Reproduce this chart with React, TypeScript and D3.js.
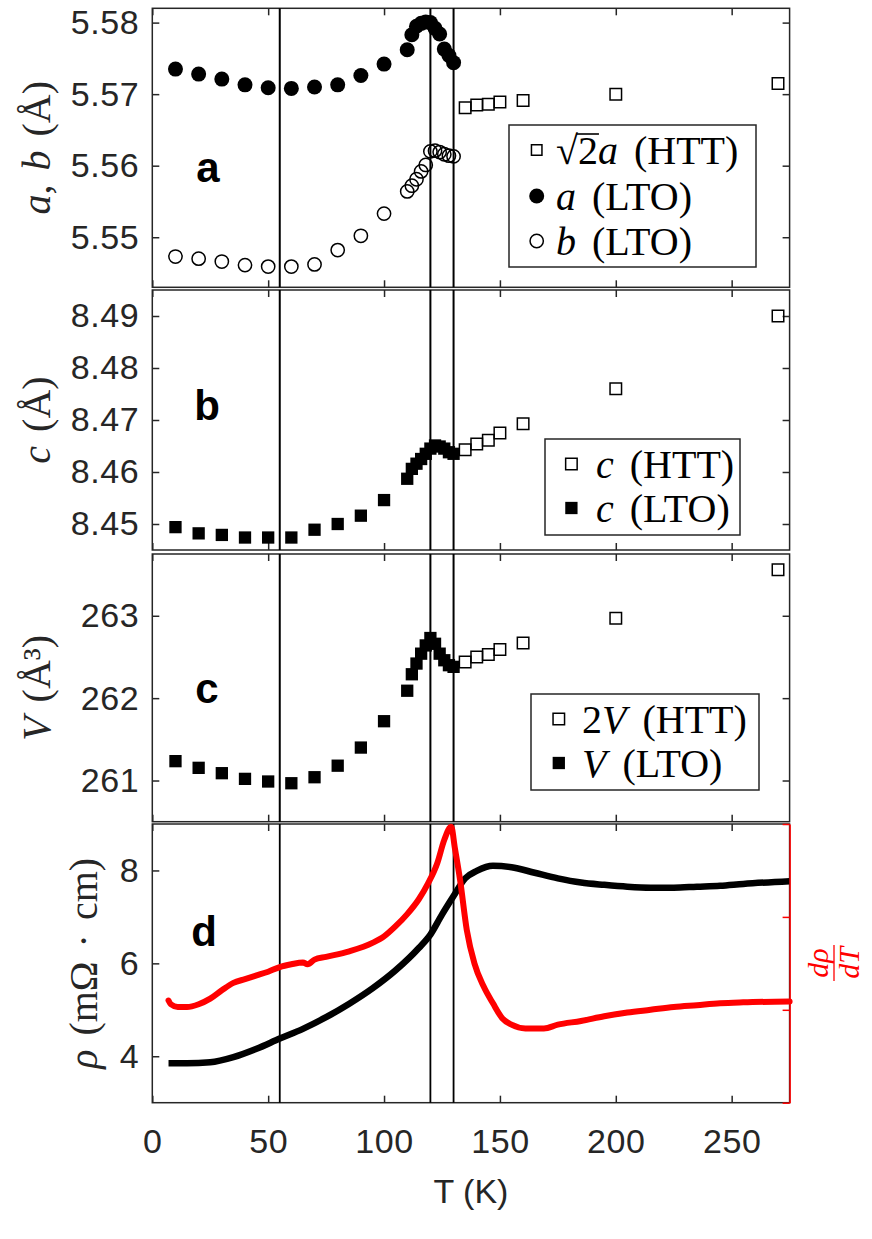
import React, { useRef, useEffect } from 'react';
import * as d3 from 'd3';

// temperatures of the LTO refinements (K)
const tLTO = [10, 20, 30, 40, 50, 60, 70, 80, 90, 100, 110, 112, 114, 116, 118, 120, 122, 124, 126, 128, 130];
// temperatures of the HTT refinements (K)
const tHTT = [135, 140, 145, 150, 160, 200, 270];

const aLTO = [5.5735, 5.5728, 5.5721, 5.5713, 5.5709, 5.5708, 5.571, 5.5713, 5.5726, 5.5742, 5.5762, 5.5783, 5.5795, 5.5799, 5.5801, 5.58, 5.5792, 5.5784, 5.5763, 5.5754, 5.5744];
const bLTO = [5.5473, 5.547, 5.5466, 5.5461, 5.5459, 5.5459, 5.5462, 5.5482, 5.5502, 5.5533, 5.5564, 5.5572, 5.5581, 5.5592, 5.5601, 5.562, 5.5621, 5.5619, 5.5616, 5.5614, 5.5613];
const aHTT = [5.5681, 5.5685, 5.5686, 5.5689, 5.5691, 5.57, 5.5715];

const cLTO = [8.4494, 8.4482, 8.4479, 8.4474, 8.4474, 8.4474, 8.4489, 8.45, 8.4516, 8.4546, 8.4587, 8.4606, 8.4616, 8.4625, 8.4635, 8.4645, 8.4651, 8.4649, 8.4645, 8.4638, 8.4635];
const cHTT = [8.4643, 8.4654, 8.4661, 8.4675, 8.4693, 8.476, 8.49];

const vLTO = [261.235, 261.154, 261.089, 261.02, 260.988, 260.967, 261.04, 261.18, 261.4, 261.72, 262.09, 262.29, 262.42, 262.54, 262.64, 262.73, 262.66, 262.54, 262.46, 262.4, 262.38];
const vHTT = [262.44, 262.5, 262.53, 262.59, 262.67, 262.97, 263.56];

// resistivity (mOhm cm)
const tRho = [7, 15, 25, 35, 45, 55, 65, 75, 85, 95, 105, 115, 120, 125, 130, 135, 140, 147, 155, 165, 175, 185, 195, 205, 215, 225, 235, 245, 255, 275];
const rho = [3.85, 3.85, 3.87, 3.98, 4.16, 4.38, 4.59, 4.84, 5.13, 5.46, 5.85, 6.33, 6.62, 7.05, 7.45, 7.83, 7.99, 8.1, 8.07, 7.95, 7.83, 7.74, 7.69, 7.65, 7.63, 7.63, 7.65, 7.67, 7.71, 7.77];

// derivative, arbitrary units on the red axis
const tDrho = [7, 8, 11, 15, 20, 25, 30, 35, 40, 45, 50, 55, 60, 65, 67, 70, 75, 85, 95, 100, 105, 110, 115, 119, 123, 126, 129, 130.5, 132.8, 135.7, 139, 143, 147, 151, 155, 161, 169, 175, 185, 195, 205, 215, 225, 235, 245, 255, 275];
const dRho = [1.1, 1.06, 1.03, 1.03, 1.06, 1.12, 1.21, 1.29, 1.33, 1.37, 1.41, 1.46, 1.49, 1.51, 1.49, 1.54, 1.57, 1.63, 1.72, 1.79, 1.9, 2.03, 2.19, 2.36, 2.58, 2.83, 2.97, 2.75, 2.4, 1.86, 1.5, 1.25, 1.07, 0.91, 0.84, 0.8, 0.8, 0.84, 0.88, 0.93, 0.97, 1.0, 1.03, 1.05, 1.07, 1.08, 1.09];

const xTicks = [0, 50, 100, 150, 200, 250];
const transitions = [55, 120, 130];
const ticksA = [5.55, 5.56, 5.57, 5.58];
const ticksB = [8.45, 8.46, 8.47, 8.48, 8.49];
const ticksC = [261, 262, 263];
const ticksD = [4, 6, 8];
const ticksRed = [0, 1, 2, 3];

type Part = { t: string; it?: boolean };
type Marker = 'fcircle' | 'ocircle' | 'osquare' | 'fsquare';

const AXIS = '#262626';
const SANS = '"Liberation Sans", Arial, Helvetica, sans-serif';
const SERIF = '"Liberation Serif", "Times New Roman", serif';

export default function App() {
  const svgRef = useRef<SVGSVGElement>(null);

  useEffect(() => {
    const svg = d3.select(svgRef.current);
    svg.selectAll('*').remove();

    const x = d3.scaleLinear().domain([0, 275]).range([152.3, 789.6]);

    const rich = (sel: d3.Selection<SVGTextElement, unknown, null, undefined>, parts: Part[]) => {
      parts.forEach(p => {
        sel.append('tspan')
          .attr('font-style', p.it ? 'italic' : 'normal')
          .text(p.t);
      });
    };

    const symbolFor = (kind: Marker, s: number) => {
      if (kind === 'fcircle' || kind === 'ocircle') {
        return d3.symbol().type(d3.symbolCircle).size(Math.PI * (s / 2) * (s / 2))();
      }
      return d3.symbol().type(d3.symbolSquare).size(s * s)();
    };

    const markerStyle = (sel: any, kind: Marker) => {
      const filled = kind === 'fcircle' || kind === 'fsquare';
      sel.attr('fill', filled ? '#000' : 'none')
        .attr('stroke', '#000')
        .attr('stroke-width', filled ? 0 : 1.5);
    };

    const panels = [
      { key: 'a', top: 8.3, bottom: 287.3, domain: [5.543, 5.582], ticks: ticksA, fmt: '.2f',
        label: [{ t: 'a', it: true }, { t: ', ' }, { t: 'b', it: true }, { t: ' (Å)' }] as Part[], labelX: 50 },
      { key: 'b', top: 290, bottom: 550, domain: [8.445, 8.495], ticks: ticksB, fmt: '.2f',
        label: [{ t: 'c', it: true }, { t: ' (Å)' }] as Part[], labelX: 50 },
      { key: 'c', top: 554, bottom: 821.7, domain: [260.5, 263.75], ticks: ticksC, fmt: 'd',
        label: [{ t: 'V', it: true }, { t: ' (Å³)' }] as Part[], labelX: 50 },
      { key: 'd', top: 824, bottom: 1102.7, domain: [3, 9], ticks: ticksD, fmt: 'd',
        label: [{ t: 'ρ', it: true }, { t: ' (mΩ · cm)' }] as Part[], labelX: 97 },
    ];

    const letterPos: Record<string, [number, number]> = {
      a: [208, 182], b: [207, 420], c: [207, 703], d: [204, 946],
    };

    const yScales: Record<string, d3.ScaleLinear<number, number>> = {};

    panels.forEach(p => {
      const y = d3.scaleLinear().domain(p.domain).range([p.bottom, p.top]);
      yScales[p.key] = y;
      const g = svg.append('g');

      // box
      g.append('rect')
        .attr('x', x(0)).attr('y', p.top)
        .attr('width', x(275) - x(0)).attr('height', p.bottom - p.top)
        .attr('fill', 'white').attr('stroke', AXIS).attr('stroke-width', 1.5);

      const styleAxis = (ag: any) => {
        ag.select('.domain').remove();
        ag.selectAll('line').attr('stroke', AXIS).attr('stroke-width', 1.5);
        ag.selectAll('text')
          .attr('font-family', SANS).attr('font-size', 34).attr('letter-spacing', 0.6).attr('fill', AXIS);
      };

      g.append('g').attr('transform', `translate(${x(0)},0)`)
        .call(d3.axisLeft(y).tickValues(p.ticks).tickSize(-7).tickPadding(13).tickFormat(d3.format(p.fmt)))
        .call(styleAxis);

      if (p.key !== 'd') {
        g.append('g').attr('transform', `translate(${x(275)},0)`)
          .call(d3.axisRight(y).tickValues(p.ticks).tickSize(-7).tickFormat(() => ''))
          .call(styleAxis);
      }

      g.append('g').attr('transform', `translate(0,${p.top})`)
        .call(d3.axisTop(x).tickValues(xTicks).tickSize(-7).tickFormat(() => ''))
        .call(styleAxis);

      g.append('g').attr('transform', `translate(0,${p.bottom})`)
        .call(d3.axisBottom(x).tickValues(xTicks).tickSize(-7).tickPadding(26)
          .tickFormat(p.key === 'd' ? d3.format('d') : () => ''))
        .call(styleAxis);

      // transition lines
      g.selectAll('line.tr')
        .data(transitions)
        .enter()
        .append('line')
        .attr('class', 'tr')
        .attr('x1', d => x(d)).attr('x2', d => x(d))
        .attr('y1', p.top).attr('y2', p.bottom)
        .attr('stroke', '#000').attr('stroke-width', p.key === 'd' ? 1.8 : 2);

      // y label
      const cy = (p.top + p.bottom) / 2;
      const lab = g.append('text')
        .attr('transform', `translate(${p.labelX},${cy}) rotate(-90)`)
        .attr('text-anchor', 'middle')
        .attr('font-family', SERIF)
        .attr('font-size', 40)
        .attr('word-spacing', 4)
        .attr('fill', AXIS);
      rich(lab, p.label);

      // panel letter
      const [lx, ly] = letterPos[p.key];
      g.append('text')
        .attr('x', lx).attr('y', ly)
        .attr('text-anchor', 'middle')
        .attr('font-family', SANS).attr('font-weight', 'bold').attr('font-size', 42)
        .attr('fill', '#000')
        .text(p.key);
    });

    const scatter = (key: string, ts: number[], vs: number[], kind: Marker, size: number) => {
      const y = yScales[key];
      svg.append('g')
        .selectAll('path')
        .data(ts.map((t, i) => [t, vs[i]]))
        .enter()
        .append('path')
        .attr('d', symbolFor(kind, size))
        .attr('transform', d => `translate(${x(d[0])},${y(d[1])})`)
        .call(markerStyle, kind);
    };

    scatter('a', tHTT, aHTT, 'osquare', 11.5);
    scatter('a', tLTO, aLTO, 'fcircle', 15);
    scatter('a', tLTO, bLTO, 'ocircle', 13.3);
    scatter('b', tHTT, cHTT, 'osquare', 11.5);
    scatter('b', tLTO, cLTO, 'fsquare', 12.3);
    scatter('c', tHTT, vHTT, 'osquare', 11.5);
    scatter('c', tLTO, vLTO, 'fsquare', 12.3);

    // panel d curves
    const yD = yScales['d'];
    const yRed = d3.scaleLinear().domain([0, 3]).range([1102.7, 824]);

    const lineRho = d3.line<number>()
      .x((_, i) => x(tRho[i]))
      .y(d => yD(d))
      .curve(d3.curveMonotoneX);
    svg.append('path')
      .datum(rho)
      .attr('d', lineRho)
      .attr('fill', 'none')
      .attr('stroke', '#000')
      .attr('stroke-width', 6.5);

    const lineD = d3.line<number>()
      .x((_, i) => x(tDrho[i]))
      .y(d => yRed(d))
      .curve(d3.curveMonotoneX);
    svg.append('path')
      .datum(dRho)
      .attr('d', lineD)
      .attr('fill', 'none')
      .attr('stroke', '#ff0000')
      .attr('stroke-width', 6)
      .attr('stroke-linejoin', 'round')
      .attr('stroke-linecap', 'round');

    // red right axis
    const ra = svg.append('g').attr('transform', `translate(${x(275)},0)`)
      .call(d3.axisRight(yRed).tickValues(ticksRed).tickSize(-7).tickSizeOuter(0).tickFormat(() => ''));
    ra.select('.domain').attr('stroke', '#ff0000').attr('stroke-width', 1.5);
    ra.selectAll('line').attr('stroke', '#ff0000').attr('stroke-width', 1.5);

    // d rho / dT label
    const fr = svg.append('g')
      .attr('transform', 'translate(834,963) rotate(-90)')
      .attr('fill', '#ff0000')
      .attr('font-family', SERIF)
      .attr('font-style', 'italic')
      .attr('font-size', 30);
    fr.append('text').attr('x', 0).attr('y', -6).attr('text-anchor', 'middle').text('dρ');
    fr.append('line').attr('x1', -18).attr('x2', 18).attr('y1', 0).attr('y2', 0)
      .attr('stroke', '#ff0000').attr('stroke-width', 1.3);
    fr.append('text').attr('x', 0).attr('y', 25).attr('text-anchor', 'middle').text('dT');

    // x label
    svg.append('text')
      .attr('x', (x(0) + x(275)) / 2).attr('y', 1203)
      .attr('text-anchor', 'middle')
      .attr('font-family', SANS).attr('font-size', 34).attr('fill', AXIS)
      .text('T (K)');

    // legends
    const legend = (box: [number, number, number, number], markX: number, textX: number,
      rows: { y: number; kind: Marker; size: number; parts: Part[]; root?: boolean }[]) => {
      const g = svg.append('g');
      g.append('rect')
        .attr('x', box[0]).attr('y', box[1])
        .attr('width', box[2] - box[0]).attr('height', box[3] - box[1])
        .attr('fill', 'white').attr('stroke', AXIS).attr('stroke-width', 1.5);
      rows.forEach(r => {
        g.append('path')
          .attr('d', symbolFor(r.kind, r.size))
          .attr('transform', `translate(${markX},${r.y})`)
          .call(markerStyle, r.kind);
        const t = g.append('text')
          .attr('x', textX).attr('y', r.y + 14)
          .attr('font-family', SERIF).attr('font-size', 40)
          .attr('word-spacing', 6).attr('fill', '#000');
        rich(t, r.parts);
        if (r.root) {
          // vinculum of the square root over the "2"
          const node = t.node() as SVGTextElement;
          const ext = node.getExtentOfChar(1);
          g.append('line')
            .attr('x1', ext.x - 1).attr('x2', ext.x + ext.width + 1)
            .attr('y1', r.y - 16).attr('y2', r.y - 16)
            .attr('stroke', '#000').attr('stroke-width', 1.6);
        }
      });
    };

    legend([509, 125, 756, 267], 536.7, 556, [
      { y: 150, kind: 'osquare', size: 10.5, root: true, parts: [{ t: '√2' }, { t: 'a', it: true }, { t: ' (HTT)' }] },
      { y: 196, kind: 'fcircle', size: 15, parts: [{ t: 'a', it: true }, { t: ' (LTO)' }] },
      { y: 241, kind: 'ocircle', size: 13.3, parts: [{ t: 'b', it: true }, { t: ' (LTO)' }] },
    ]);
    legend([545, 439, 740, 535], 571.4, 596, [
      { y: 464, kind: 'osquare', size: 11.5, parts: [{ t: 'c', it: true }, { t: ' (HTT)' }] },
      { y: 508, kind: 'fsquare', size: 12.3, parts: [{ t: 'c', it: true }, { t: ' (LTO)' }] },
    ]);
    legend([531, 694, 759, 790], 558.8, 582, [
      { y: 719, kind: 'osquare', size: 11.5, parts: [{ t: '2' }, { t: 'V', it: true }, { t: ' (HTT)' }] },
      { y: 763, kind: 'fsquare', size: 12.3, parts: [{ t: 'V', it: true }, { t: ' (LTO)' }] },
    ]);
  }, []);

  return (
    <svg
      ref={svgRef}
      width={872}
      height={1239}
      style={{ position: 'absolute', left: 0, top: 0, background: 'white' }}
    />
  );
}
